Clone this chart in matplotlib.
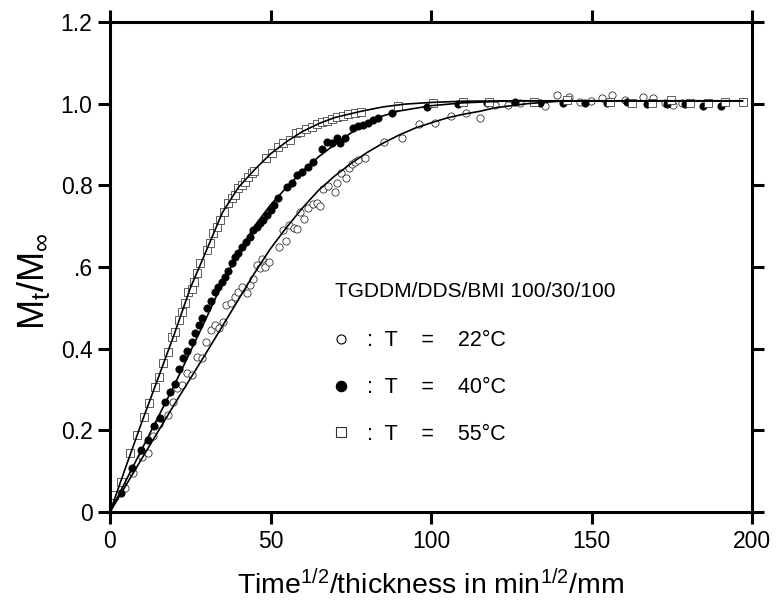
import matplotlib
matplotlib.use("Agg")
import matplotlib.pyplot as plt
from matplotlib.lines import Line2D
from matplotlib.ticker import FixedLocator, FixedFormatter

plt.rcParams['font.family'] = ['Liberation Sans', 'DejaVu Sans']
plt.rcParams['mathtext.fontset'] = 'custom'
plt.rcParams['mathtext.rm'] = 'Liberation Sans'
plt.rcParams['mathtext.it'] = 'Liberation Sans'
plt.rcParams['mathtext.bf'] = 'Liberation Sans'

# ---------------- data ----------------
x_ticks = [0, 50, 100, 150, 200]
x_tick_labels = ['0', '50', '100', '150', '200']
y_ticks = [0, 0.2, 0.4, 0.6, 0.8, 1.0, 1.2]
y_tick_labels = ['0', '0.2', '0.4', '.6', '0.8', '1.0', '1.2']

# T = 55 C (open squares)
sq_x = [1.25, 3.3, 6.2, 8.5, 10.6, 12.2, 14.0, 15.3, 16.6, 18.2, 19.2, 20.2, 21.5, 22.5, 23.4,
        24.4, 25.4, 26.3, 27.0, 28.0, 30.1, 31.2, 32.2, 33.4, 34.3, 35.5, 36.9, 37.9, 38.9,
        40.0, 41.0, 42.1, 43.1, 44.1, 44.9, 48.5, 50.4, 52.4, 54.0, 56.1, 57.8, 59.2, 61.1,
        62.8, 64.4, 65.9, 67.5, 69.1, 70.8, 72.7, 74.2, 76.3, 78.1, 89.8, 100.7, 109.9,
        118.0, 132.0, 142.3, 155.8, 162.5, 168.7, 174.9, 180.7, 186.4, 191.6, 197.3]
sq_y = [0.042, 0.074, 0.144, 0.189, 0.232, 0.266, 0.305, 0.331, 0.364, 0.393, 0.428, 0.442,
        0.470, 0.489, 0.511, 0.538, 0.546, 0.564, 0.585, 0.611, 0.642, 0.658, 0.683, 0.699,
        0.715, 0.735, 0.756, 0.768, 0.776, 0.793, 0.801, 0.809, 0.820, 0.829, 0.836, 0.866,
        0.880, 0.895, 0.903, 0.911, 0.927, 0.931, 0.937, 0.944, 0.950, 0.954, 0.958, 0.962,
        0.967, 0.971, 0.975, 0.978, 0.980, 0.994, 1.002, 1.004, 1.005, 1.004, 1.009, 1.005,
        1.002, 1.002, 1.009, 1.002, 1.001, 1.003, 1.005]

# T = 40 C (filled circles)
fc_x = [3.3, 6.8, 9.6, 11.9, 13.7, 15.6, 17.1, 18.7, 20.2, 21.5, 22.8, 24.1, 25.4, 26.5, 27.7,
        28.8, 30.1, 31.5, 32.7, 33.7, 34.8, 35.8, 36.9, 37.9, 38.9, 40.0, 41.0, 42.4, 43.6,
        44.6, 45.7, 46.7, 47.8, 48.8, 50.1, 51.1, 52.4, 55.0, 56.6, 58.4, 59.9, 61.8, 63.3,
        65.9, 67.5, 69.1, 70.6, 71.7, 73.2, 75.8, 77.4, 78.9, 80.5, 82.0, 83.6, 87.8, 98.7,
        108.5, 117.4, 126.2, 134.0, 141.0, 148.0, 154.7, 161.0, 167.3, 173.4, 179.1, 184.8, 190.2]
fc_y = [0.046, 0.107, 0.152, 0.176, 0.211, 0.229, 0.270, 0.295, 0.313, 0.349, 0.378, 0.395,
        0.417, 0.439, 0.458, 0.474, 0.499, 0.517, 0.538, 0.552, 0.564, 0.575, 0.590, 0.609,
        0.625, 0.634, 0.650, 0.662, 0.674, 0.691, 0.699, 0.707, 0.715, 0.727, 0.740, 0.752,
        0.768, 0.797, 0.805, 0.825, 0.833, 0.846, 0.858, 0.888, 0.907, 0.904, 0.915, 0.903,
        0.915, 0.940, 0.945, 0.948, 0.952, 0.960, 0.964, 0.976, 0.991, 0.998, 1.001, 1.005,
        1.002, 1.002, 1.001, 1.001, 1.005, 0.999, 0.999, 0.999, 0.994, 0.994]

# T = 22 C (open circles)
oc_x = [1.25, 4.7, 7.3, 9.9, 11.7, 13.5, 15.4, 18.2, 19.5, 21.0, 22.3, 24.1, 25.4, 27.0, 28.6,
        29.9, 31.5, 32.7, 34.1, 35.1, 36.1, 37.6, 38.9, 40.0, 41.0, 42.6, 43.6, 44.6, 45.7,
        46.7, 47.3, 48.3, 49.6, 52.7, 53.8, 54.8, 55.9, 57.3, 58.4, 59.2, 60.4, 61.8, 63.3,
        64.6, 65.4, 66.3, 68.0, 70.1, 70.8, 71.9, 73.5, 74.3, 75.3, 76.3, 77.4, 79.4, 85.4,
        90.9, 96.4, 101.2, 106.1, 110.9, 115.3, 120.0, 124.1, 127.7, 135.5, 139.4, 143.0,
        146.4, 149.7, 153.4, 156.5, 160.4, 166.1, 169.2, 172.9, 175.3, 178.1]
oc_y = [0.042, 0.058, 0.096, 0.135, 0.144, 0.186, 0.216, 0.238, 0.270, 0.303, 0.311, 0.340,
        0.335, 0.379, 0.376, 0.417, 0.446, 0.458, 0.451, 0.466, 0.507, 0.511, 0.527, 0.540,
        0.550, 0.536, 0.556, 0.570, 0.605, 0.597, 0.619, 0.601, 0.613, 0.650, 0.691, 0.664,
        0.703, 0.695, 0.692, 0.735, 0.717, 0.744, 0.754, 0.757, 0.749, 0.790, 0.798, 0.784,
        0.806, 0.829, 0.817, 0.842, 0.852, 0.858, 0.862, 0.868, 0.907, 0.915, 0.950, 0.952,
        0.970, 0.978, 0.964, 0.997, 0.997, 1.002, 0.994, 1.022, 1.016, 1.005, 1.007, 1.013,
        1.021, 1.009, 1.016, 1.013, 1.002, 0.997, 1.002]

# fitted curves
fit55_x = [0, 5, 10, 15, 20, 25, 30, 35, 40, 45, 50, 55, 60, 65, 70, 78, 85, 92, 100, 110, 125, 197]
fit55_y = [0, 0.112, 0.222, 0.328, 0.435, 0.548, 0.640, 0.733, 0.795, 0.838, 0.877, 0.907,
           0.932, 0.951, 0.966, 0.981, 0.992, 0.999, 1.003, 1.006, 1.007, 1.007]
fit40_x = [0, 10, 20, 30, 35, 40, 45, 50, 55, 60, 65, 70, 75, 80, 85, 90, 100, 110, 125, 197]
fit40_y = [0, 0.155, 0.310, 0.475, 0.560, 0.635, 0.700, 0.752, 0.795, 0.835, 0.870, 0.900,
           0.928, 0.952, 0.970, 0.982, 0.995, 1.002, 1.007, 1.007]
fit22_x = [0, 10, 20, 30, 40, 45, 50, 55, 60, 65, 70, 75, 80, 85, 90, 95, 100, 105, 110, 115,
           120, 130, 140, 150, 197]
fit22_y = [0, 0.132, 0.263, 0.390, 0.520, 0.585, 0.645, 0.697, 0.745, 0.788, 0.823, 0.853,
           0.880, 0.903, 0.923, 0.940, 0.953, 0.965, 0.974, 0.981, 0.990, 1.000, 1.006, 1.007, 1.007]

legend_title = 'TGDDM/DDS/BMI 100/30/100'
legend_labels = [':  T    =    22°C', ':  T    =    40°C', ':  T    =    55°C']

# ---------------- figure ----------------
fig = plt.figure(figsize=(7.76, 6.13), dpi=100)
W, H = 776, 613
ax = fig.add_axes([110 / W, 1 - 512 / H, 642 / W, 490 / H])

ms_c = 5.2
ms_s = 5.2
ax.plot(oc_x, oc_y, 'o', ms=ms_c, mfc='white', mec='#222222', mew=0.55, zorder=2)
ax.plot(fc_x, fc_y, 'o', ms=ms_c, mfc='black', mec='black', mew=0.6, zorder=2)
ax.plot(sq_x, sq_y, 's', ms=ms_s, mfc='white', mec='#444444', mew=0.6, zorder=2)

for fx, fy in [(fit22_x, fit22_y), (fit40_x, fit40_y), (fit55_x, fit55_y)]:
    ax.plot(fx, fy, '-', color='black', lw=1.2, zorder=3)

ax.set_xlim(0, 200)
ax.set_ylim(0, 1.2)
ax.xaxis.set_major_locator(FixedLocator(x_ticks))
ax.xaxis.set_major_formatter(FixedFormatter(x_tick_labels))
ax.yaxis.set_major_locator(FixedLocator(y_ticks))
ax.yaxis.set_major_formatter(FixedFormatter(y_tick_labels))

for s in ax.spines.values():
    s.set_linewidth(2.2)
ax.tick_params(direction='out', length=8.6, width=2.2, top=True, right=True,
               labelsize=16.5, pad=4)

ax.set_xlabel('Time$^{1/2}$/thickness in min$^{1/2}$/mm', fontsize=20.5, labelpad=12)
ax.set_ylabel('M$_t$/M$_\\infty$', fontsize=26)
ax.yaxis.set_label_coords(-0.09, 0.471)

handles = [
    Line2D([], [], ls='none', marker='o', ms=6.5, mfc='white', mec='black', mew=0.8),
    Line2D([], [], ls='none', marker='o', ms=7.5, mfc='black', mec='black', mew=0.8),
    Line2D([], [], ls='none', marker='s', ms=6.5, mfc='white', mec='#333333', mew=0.8),
]
leg = ax.legend(handles, legend_labels, title=legend_title, loc='upper left',
                bbox_to_anchor=(0.35, 0.469), frameon=False, fontsize=15.5,
                title_fontsize=15, handlelength=0.6, handletextpad=0.9,
                labelspacing=1.2, alignment='left', borderpad=0, borderaxespad=0)
leg._legend_box.sep = 21

fig.savefig('out.png', dpi=100)
